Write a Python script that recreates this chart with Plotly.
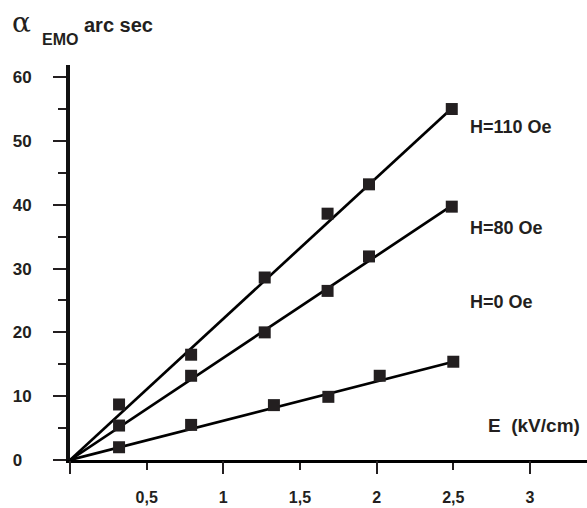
import plotly.graph_objects as go

# ---- data ----
E_110 = [0.32, 0.79, 1.27, 1.68, 1.95, 2.49]
A_110 = [8.7, 16.5, 28.6, 38.6, 43.2, 55.0]
E_80 = [0.32, 0.79, 1.27, 1.68, 1.95, 2.49]
A_80 = [5.4, 13.2, 20.0, 26.5, 31.9, 39.7]
E_0 = [0.32, 0.79, 1.33, 1.685, 2.02, 2.5]
A_0 = [2.0, 5.5, 8.6, 9.9, 13.2, 15.4]

fit_E_110 = [0, 2.48]
fit_A_110 = [0, 54.9]
fit_E_80 = [0, 2.48]
fit_A_80 = [0, 39.7]
fit_E_0 = [0, 2.5]
fit_A_0 = [0, 15.4]

series_labels = ["H=110 Oe", "H=80 Oe", "H=0 Oe"]
label_y = [52.2, 36.4, 24.8]

x_tickvals = [0, 0.5, 1, 1.5, 2, 2.5, 3]
x_ticktext = ["", "0,5", "1", "1,5", "2", "2,5", "3"]
x_major = [0, 1, 2, 3]
y_tickvals = [0, 10, 20, 30, 40, 50, 60]
y_ticktext = ["0\u00a0\u00a0", "10", "20", "30", "40", "50", "60"]

INK = "#231f20"
FONT = "Liberation Sans, Arial, sans-serif"

fig = go.Figure()

for fx, fy in [(fit_E_110, fit_A_110), (fit_E_80, fit_A_80), (fit_E_0, fit_A_0)]:
    fig.add_trace(go.Scatter(x=fx, y=fy, mode="lines",
                             line=dict(color="#000000", width=2.7),
                             hoverinfo="skip", showlegend=False))

for ex, ay in [(E_110, A_110), (E_80, A_80), (E_0, A_0)]:
    fig.add_trace(go.Scatter(x=ex, y=ay, mode="markers",
                             marker=dict(symbol="square", size=12, color=INK,
                                         line=dict(width=0)),
                             showlegend=False))

# invisible trace so the overlay axis (long integer ticks) is drawn
fig.add_trace(go.Scatter(x=[0], y=[0], xaxis="x2", mode="markers",
                         marker=dict(opacity=0), hoverinfo="skip", showlegend=False))

XR = [0, 3.372]
YR = [0, 61.9]

fig.update_layout(
    width=587, height=508,
    margin=dict(l=70, r=0, t=65, b=48),
    paper_bgcolor="white", plot_bgcolor="white",
    font=dict(family=FONT, color=INK, size=17),
    xaxis=dict(range=XR, showgrid=False, zeroline=False, automargin=False,
               showline=True, linecolor="#000000", linewidth=3,
               tickmode="array", tickvals=x_tickvals, ticktext=x_ticktext,
               ticks="outside", ticklen=7, tickwidth=2, tickcolor=INK,
               tickfont=dict(family=FONT, size=16, color=INK, weight="bold"),
               ticklabelstandoff=14),
    xaxis2=dict(range=XR, overlaying="x", anchor="y", side="bottom",
                showgrid=False, zeroline=False, showline=False, automargin=False,
                tickmode="array", tickvals=x_major, showticklabels=False,
                ticks="outside", ticklen=13, tickwidth=2, tickcolor=INK),
    yaxis=dict(range=YR, showgrid=False, zeroline=False, automargin=False,
               showline=True, linecolor="#111111", linewidth=4,
               tickmode="array", tickvals=y_tickvals, ticktext=y_ticktext,
               ticks="outside", ticklen=13, tickwidth=2, tickcolor=INK,
               minor=dict(dtick=5, tick0=0, ticks="outside", ticklen=8,
                          tickwidth=2, tickcolor=INK, showgrid=False),
               tickfont=dict(family=FONT, size=17, color=INK, weight="bold"),
               ticklabelstandoff=18),
)

# series labels
for txt, yv in zip(series_labels, label_y):
    fig.add_annotation(x=2.596, y=yv, xref="x", yref="y", text=txt,
                       xanchor="left", yanchor="middle", showarrow=False,
                       font=dict(family=FONT, size=18, color=INK, weight="bold"))

# x-axis title
fig.add_annotation(x=(486 - 70) / 517, y=(460 - 425) / 395, xref="paper", yref="paper",
                   text="E\u00a0\u00a0(kV/cm)", xanchor="left", yanchor="middle",
                   showarrow=False,
                   font=dict(family=FONT, size=19, color=INK, weight="bold"))

# y-axis title pieces
fig.add_annotation(x=(21 - 70) / 517, y=(460 - 22) / 395, xref="paper", yref="paper",
                   text="α", xanchor="center", yanchor="middle", showarrow=False,
                   font=dict(family="DejaVu Serif, serif", size=28, color=INK))
fig.add_annotation(x=(60 - 70) / 517, y=(460 - 39) / 395, xref="paper", yref="paper",
                   text="EMO", xanchor="center", yanchor="middle", showarrow=False,
                   font=dict(family=FONT, size=16, color=INK, weight="bold"))
fig.add_annotation(x=(118 - 70) / 517, y=(460 - 25) / 395, xref="paper", yref="paper",
                   text="arc sec", xanchor="center", yanchor="middle", showarrow=False,
                   font=dict(family=FONT, size=20, color=INK, weight="bold"))

fig.write_html("out.html")
